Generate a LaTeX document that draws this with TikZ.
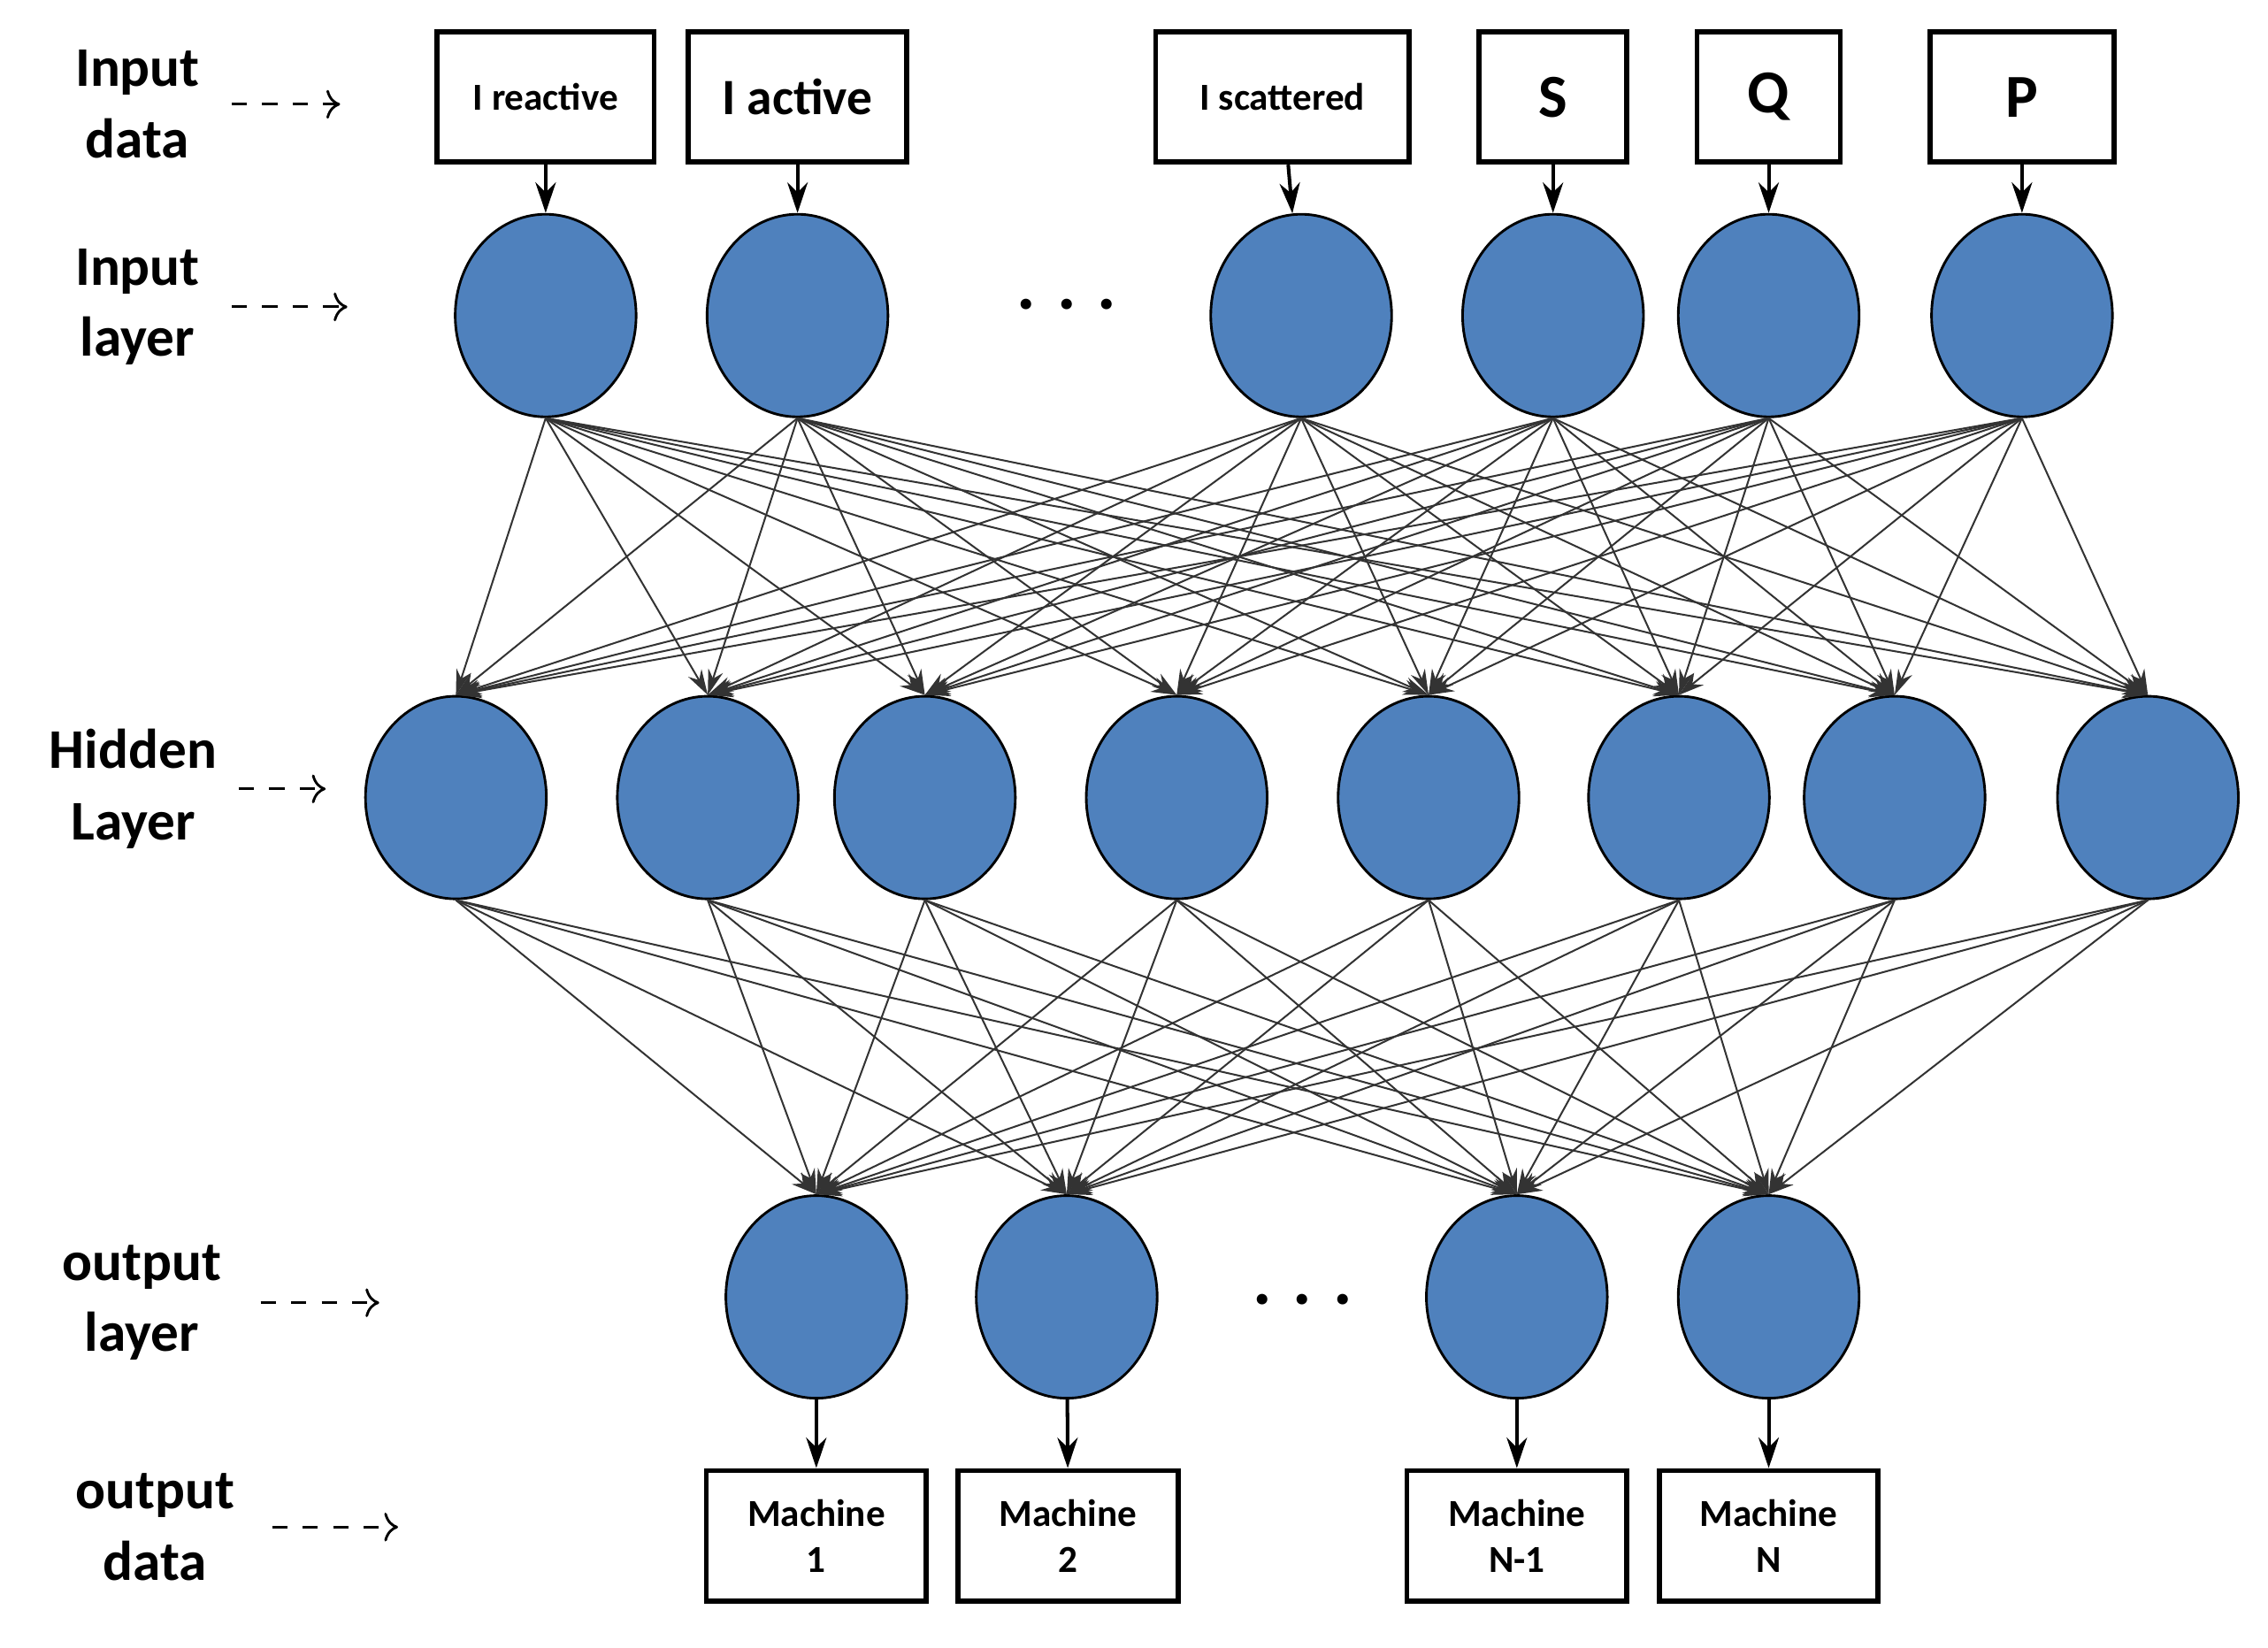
\documentclass[tikz,border=0pt]{standalone}
\usepackage{fontspec}
\setmainfont{Carlito}
\usetikzlibrary{shapes.geometric,arrows.meta}
\begin{document}
\begin{tikzpicture}[x=0.1mm,y=-0.1mm,
  neu/.style={ellipse,draw=black,line width=0.5pt,fill=nblue,minimum width=12.5mm,minimum height=14mm,inner sep=0},
  box/.style={draw=black,line width=1pt,fill=white,inner sep=0,align=center,minimum height=9mm,font=\bfseries\fontsize{7.5}{9}\selectfont},
  lab/.style={align=center,font=\bfseries\fontsize{11}{14}\selectfont},
  con/.style={-{Stealth[length=5pt,width=3pt]},line width=0.35pt,draw=black!80},
  dar/.style={->,dashed,line width=0.5pt},
  sar/.style={-{Stealth[length=6pt,width=4pt]},line width=0.7pt}]
\definecolor{nblue}{HTML}{4F81BD}
\useasboundingbox (0,0) rectangle (1567,1138);
% input boxes
\node[box,minimum width=15mm] (b1) at (377,67) {I reactive};
\node[box,minimum width=15.1mm,font=\bfseries\fontsize{10}{12}\selectfont] (b2) at (551,67) {I active};
\node[box,minimum width=17.5mm] (b3) at (886,67) {I scattered};
\node[box,minimum width=10.2mm,font=\bfseries\fontsize{12}{14}\selectfont] (b4) at (1073,67) {S};
\node[box,minimum width=9.9mm,font=\bfseries\fontsize{12}{14}\selectfont] (b5) at (1222,67) {Q};
\node[box,minimum width=12.7mm,font=\bfseries\fontsize{12}{14}\selectfont] (b6) at (1397,67) {P};
% input layer
\foreach \i/\x in {1/377,2/551,3/899,4/1073,5/1222,6/1397}{
  \node[neu] (i\i) at (\x,218) {};
}
\node[font=\bfseries\fontsize{14}{14}\selectfont] (d1) at (737,210) {. . .};
% hidden
\foreach \i/\x in {1/315,2/489,3/639,4/813,5/987,6/1160,7/1309,8/1484}{
  \node[neu] (h\i) at (\x,551) {};
}
% output
\foreach \i/\x in {1/564,2/737,3/1048,4/1222}{
  \node[neu] (o\i) at (\x,896) {};
}
\node[font=\bfseries\fontsize{14}{14}\selectfont] (d2) at (900,898) {. . .};
% output boxes
\node[box,minimum width=15.2mm] (m1) at (564,1061) {Machine\\1};
\node[box,minimum width=15.2mm] (m2) at (738,1061) {Machine\\2};
\node[box,minimum width=15.2mm] (m3) at (1048,1061) {Machine\\N-1};
\node[box,minimum width=15.1mm] (m4) at (1222,1061) {Machine\\N};
% connections
\foreach \i in {1,...,6} \draw[sar] (b\i) -- (i\i);
\foreach \i in {1,...,6}{\foreach \j in {1,...,8}{\draw[con] (i\i.south) -- (h\j.north);}}
\foreach \i in {1,...,8}{\foreach \j in {1,...,4}{\draw[con] (h\i.south) -- (o\j.north);}}
\draw[sar] (o1) -- (m1); \draw[sar] (o2) -- (m2); \draw[sar] (o3) -- (m3); \draw[sar] (o4) -- (m4);
% labels
\node[lab] (l1) at (95,72) {Input\\data};
\node[lab] (l2) at (95,212) {Input\\layer};
\node[lab] (l3) at (92,545) {Hidden\\Layer};
\node[lab] (l4) at (98,900) {output\\layer};
\node[lab] (l5) at (107,1055) {output\\data};
\coordinate (a1) at (235,72); \coordinate (a2) at (240,212); \coordinate (a3) at (225,545);
\coordinate (a4) at (262,900); \coordinate (a5) at (275,1055);
\draw[dar] (160,72) -- (a1);
\draw[dar] (160,212) -- (a2);
\draw[dar] (165,545) -- (a3);
\draw[dar] (180,900) -- (a4);
\draw[dar] (188,1055) -- (a5);
\end{tikzpicture}
\end{document}
